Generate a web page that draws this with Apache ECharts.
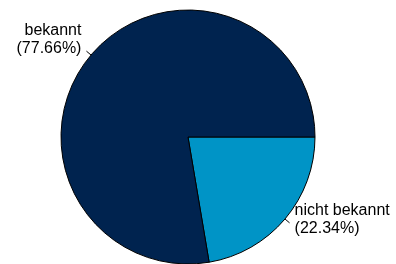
<!DOCTYPE html>
<html>
<head>
<meta charset="utf-8">
<script src="https://cdn.jsdelivr.net/npm/echarts@6/dist/echarts.min.js"></script>
<style>
  html, body { margin: 0; padding: 0; background: #fff; }
  #chart { width: 396px; height: 264px; }
</style>
</head>
<body>
<div id="chart"></div>
<script>
// Daten
const categories = ['nicht bekannt', 'bekannt'];
const values = [22.34, 77.66];
const colors = ['#0094C6', '#00234F'];
// vertikaler Versatz der Beschriftungen
const labelShift = [-3, -12];

const chart = echarts.init(document.getElementById('chart'));

const pieData = categories.map((name, i) => ({
  name,
  value: values[i],
  itemStyle: { color: colors[i] }
}));

const option = {
  backgroundColor: '#fff',
  animation: false,
  series: [{
    type: 'pie',
    center: [188, 137],
    radius: 127,
    startAngle: 0,
    clockwise: true,
    avoidLabelOverlap: false,
    itemStyle: {
      borderColor: '#000',
      borderWidth: 1
    },
    label: {
      show: true,
      position: 'outside',
      formatter: '{b}\n({c}%)',
      color: '#000',
      fontFamily: 'Liberation Sans, Arial, sans-serif',
      fontSize: 16,
      lineHeight: 18,
      distanceToLabelLine: 5
    },
    labelLine: {
      show: true,
      length: 6,
      length2: 0,
      lineStyle: { color: '#000', width: 1 }
    },
    labelLayout(params) {
      return { dy: labelShift[params.dataIndex] };
    },
    emphasis: { disabled: true },
    data: pieData
  }]
};

chart.setOption(option);
</script>
</body>
</html>
